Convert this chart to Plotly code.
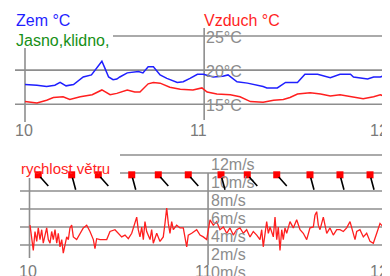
import math
import plotly.graph_objects as go

# ---------------- data ----------------
# hours since day "10" 00:00
zem_h = [0, 1.6, 2.9, 4.0, 4.7, 5.5, 6.5, 7.8, 8.9, 9.6, 10.3, 10.7, 11.2, 11.8, 12.3, 12.7,
         13.7, 15.2, 15.8, 16.5, 17.2, 18.1, 19.0, 20.4, 21.2, 22.1, 23.1, 23.9, 25.2, 26.5,
         27.2, 28.4, 29.8, 31.9, 32.4, 33.8, 34.9, 36.5, 37.5, 39.2, 40.5, 40.9, 42.2, 43.6,
         44.0, 45.3, 45.9, 46.7, 47.6, 48.3]
zem_t = [17.9, 17.8, 17.6, 17.8, 18.2, 17.7, 17.9, 19.0, 19.3, 20.3, 21.3, 20.3, 19.0, 18.6, 18.7, 19.0,
         19.6, 19.8, 19.6, 20.5, 20.5, 19.3, 18.8, 18.2, 18.3, 18.8, 19.4, 19.4, 19.0, 19.1,
         19.3, 18.3, 18.1, 17.6, 17.4, 17.4, 18.2, 18.2, 19.4, 19.4, 19.1, 18.9, 19.4, 19.4,
         19.0, 18.8, 18.7, 19.0, 19.0, 19.3]

air_h = [0, 1.6, 2.9, 3.8, 5.1, 6.0, 7.4, 9.0, 10.3, 11.4, 12.3, 13.7, 14.7, 15.4, 16.5, 17.2,
         18.1, 19.4, 20.8, 22.5, 23.7, 24.4, 25.7, 27.5, 28.8, 30.2, 31.9, 33.3, 34.6, 35.5,
         36.5, 38.2, 39.6, 40.9, 42.2, 43.6, 45.3, 46.7, 47.6, 48.3]
air_t = [15.4, 15.2, 15.6, 16.0, 16.1, 15.7, 16.1, 16.4, 17.1, 16.4, 16.6, 17.1, 16.8, 16.8, 18.0, 18.2,
         18.1, 17.5, 17.2, 17.1, 17.4, 16.8, 16.5, 16.4, 16.1, 15.4, 15.3, 15.6, 15.7, 16.0,
         16.5, 16.7, 16.5, 16.2, 16.4, 16.1, 15.8, 16.1, 16.4, 16.1]

wind_h = [0.07, 0.30, 0.51, 0.74, 0.97, 1.18, 1.41, 1.64, 1.85, 2.31, 2.53, 2.76, 2.98, 3.20, 3.43,
          3.66, 3.87, 4.10, 4.33, 4.54, 4.77, 5.00, 5.22, 5.44, 5.67, 5.89, 6.34, 6.79, 7.23, 7.69,
          8.13, 8.58, 8.80, 9.03, 9.48, 10.38, 10.82, 11.49, 11.94, 12.39, 12.84, 13.28, 13.74,
          14.18, 14.41, 14.62, 14.85, 15.08, 15.30, 15.52, 15.75, 16.20, 16.42, 16.64, 17.10,
          17.54, 17.98, 18.21, 18.44, 18.66, 18.88, 19.11, 19.33, 19.78, 20.23, 20.67, 20.90,
          21.13, 21.34, 21.80, 22.47, 22.92, 23.36, 23.82, 24.26, 24.70, 25.16, 25.60, 26.05,
          26.51, 26.95, 27.39, 27.85, 28.29, 28.74, 29.19, 29.64, 30.08, 30.54, 30.98, 31.21,
          31.42, 31.88, 32.10, 32.33, 32.77, 33.00, 33.23, 33.44, 33.67, 33.90, 34.11, 34.34,
          34.57, 35.01, 35.46, 35.91, 36.36, 36.80, 37.26, 37.70, 38.15, 38.37, 38.60, 38.82,
          39.05, 39.49, 39.72, 39.95, 40.39, 40.83, 41.29, 41.73, 42.18, 42.63, 43.08, 43.52,
          43.75, 43.98, 44.42, 44.87, 45.32, 45.77, 46.21, 46.67, 47.11, 47.55, 48.01, 48.45]
wind_v = [4.2, 2.6, 1.4, 3.5, 2.4, 3.9, 2.6, 3.7, 2.2, 3.9, 2.6, 2.2, 3.5, 2.6, 3.7,
          2.2, 3.3, 1.8, 2.6, 1.1, 2.2, 2.9, 2.6, 3.9, 4.2, 2.9, 2.6, 3.3, 3.9, 4.2,
          3.5, 2.6, 1.6, 2.7, 2.6, 2.6, 3.5, 3.7, 3.3, 2.9, 3.1, 2.7, 3.3,
          4.4, 5.1, 3.7, 2.9, 4.0, 2.6, 4.6, 3.5, 2.6, 3.7, 2.2, 3.3,
          2.4, 2.9, 4.4, 6.1, 4.4, 3.3, 4.6, 3.7, 4.2, 3.9, 3.9, 2.9,
          1.8, 3.1, 3.3, 3.7, 3.1, 2.9, 2.6, 4.8, 4.2, 4.6, 3.7, 4.0,
          3.3, 3.9, 3.1, 3.7, 3.9, 3.3, 3.7, 2.9, 3.5, 3.1, 2.6, 3.7,
          1.8, 4.6, 3.3, 4.0, 2.9, 5.1, 2.6, 4.0, 1.4, 3.7, 2.6, 3.9,
          3.3, 4.6, 3.9, 4.8, 3.7, 3.3, 2.6, 3.9, 4.0, 5.3, 5.7, 4.2,
          3.7, 5.1, 4.2, 3.3, 3.9, 3.1, 3.7, 3.7, 3.5, 3.9, 4.6, 3.3,
          2.6, 3.5, 3.7, 2.9, 3.3, 2.4, 2.2, 3.3, 4.4, 4.0, 4.4, 3.9]

# wind direction samples (hours, direction the wind comes from, degrees)
dir_h = [1.18, 5.67, 9.25, 13.74, 17.31, 21.34, 25.74, 29.27, 33.23, 37.70, 41.73, 45.77]
dir_deg = [318, 345, 318, 345, 318, 318, 345, 318, 318, 345, 345, 345]

day_ticks = [0, 24, 48]
day_labels = ["10", "11", "12"]
temp_ticks = [15, 20, 25]
temp_labels = ["15°C", "20°C", "25°C"]
wind_ticks = [2, 4, 6, 8, 10, 12]
wind_labels = ["2m/s", "4m/s", "6m/s", "8m/s", "10m/s", "12m/s"]

# ---------------- styling ----------------
OFF = 8                       # page body margin of the browser
W, H = 390 - OFF, 276 - OFF
BLUE = "#1f1fff"
RED = "#ff1f1f"
GREEN = "#169016"
GRID = "#8e8e8e"
LABEL = "#8c8c8c"
TICK = "#7a7a7a"
FONT = "Liberation Sans"


def px2paper_y(py):
    return 1 - (py - OFF) / H


def px2paper_x(px):
    return (px - OFF) / W


fig = go.Figure()

fig.add_trace(go.Scatter(x=zem_h, y=zem_t, mode="lines", line=dict(color=BLUE, width=1.5),
                         xaxis="x", yaxis="y", hoverinfo="skip"))
fig.add_trace(go.Scatter(x=air_h, y=air_t, mode="lines", line=dict(color=RED, width=1.5),
                         xaxis="x", yaxis="y", hoverinfo="skip"))
fig.add_trace(go.Scatter(x=wind_h, y=wind_v, mode="lines", line=dict(color=RED, width=1.3),
                         xaxis="x2", yaxis="y2", hoverinfo="skip"))

barb_row = 9.8
fig.add_trace(go.Scatter(x=dir_h, y=[barb_row] * len(dir_h), mode="markers",
                         marker=dict(symbol="square", size=7, color="#ff0000", line=dict(width=0)),
                         xaxis="x2", yaxis="y2", hoverinfo="skip"))

shapes = []
annotations = []

# top panel horizontal gridlines
for v in temp_ticks:
    x0 = 113 if v == 25 else 15
    shapes.append(dict(type="line", xref="paper", yref="y", x0=px2paper_x(x0), x1=1,
                       y0=v, y1=v, line=dict(color=GRID, width=1.6), layer="below"))
# bottom panel horizontal gridlines
for v in wind_ticks:
    x0 = 120 if v >= 10 else 20
    shapes.append(dict(type="line", xref="paper", yref="y2", x0=px2paper_x(x0), x1=1,
                       y0=v, y1=v, line=dict(color=GRID, width=1.6), layer="below"))

# vertical day lines
top_vspan = [(48, 122), (28, 120), (25, 120)]
bot_vspan = [(178, 258), (173, 265), (140, 276)]
for t, (a, b) in zip(day_ticks, top_vspan):
    shapes.append(dict(type="line", xref="x", yref="paper", x0=t, x1=t,
                       y0=px2paper_y(b), y1=px2paper_y(a), line=dict(color=GRID, width=1.6), layer="below"))
for t, (a, b) in zip(day_ticks, bot_vspan):
    shapes.append(dict(type="line", xref="x2", yref="paper", x0=t, x1=t,
                       y0=px2paper_y(b), y1=px2paper_y(a), line=dict(color=GRID, width=1.6), layer="below"))

# day labels
top_shift = [-1, -6, None]
bot_shift = [-2, -5, None]
for i, (t, lab) in enumerate(zip(day_ticks, day_labels)):
    for ax_ref, ypx, sh in (("x", 130, top_shift[i]), ("x2", 271, bot_shift[i])):
        if sh is None:
            annotations.append(dict(x=1, xref="paper", y=px2paper_y(ypx), yref="paper", text=lab,
                                    showarrow=False, xanchor="right", yanchor="middle",
                                    font=dict(family=FONT, size=16, color=TICK)))
        else:
            annotations.append(dict(x=t, xref=ax_ref, y=px2paper_y(ypx), yref="paper", text=lab,
                                    showarrow=False, xanchor="center", yanchor="middle", xshift=sh,
                                    font=dict(family=FONT, size=16, color=TICK)))

# temp labels
for v, lab in zip(temp_ticks, temp_labels):
    annotations.append(dict(x=px2paper_x(204), xref="paper", y=v, yref="y", text=lab,
                            showarrow=False, xanchor="left", yanchor="middle", yshift=-1,
                            font=dict(family=FONT, size=16, color=LABEL)))
# wind labels (drawn under their line)
for v, lab in zip(wind_ticks + [0], wind_labels + ["0m/s"]):
    annotations.append(dict(x=px2paper_x(209), xref="paper", y=v, yref="y2", text=lab,
                            showarrow=False, xanchor="left", yanchor="middle", yshift=-9,
                            font=dict(family=FONT, size=16, color=LABEL)))

# wind direction tails
L = 17
for t, d in zip(dir_h, dir_deg):
    tail = math.radians(d + 180)
    annotations.append(dict(x=t, xref="x2", y=barb_row, yref="y2", text="",
                            showarrow=True, arrowhead=0, arrowwidth=1.6, arrowcolor="#000000",
                            ax=L * math.sin(tail), ay=-L * math.cos(tail), standoff=3))

# titles
annotations += [
    dict(x=px2paper_x(14), y=px2paper_y(21), xref="paper", yref="paper", text="Zem °C",
         showarrow=False, xanchor="left", yanchor="middle", font=dict(family=FONT, size=16, color=BLUE)),
    dict(x=px2paper_x(14), y=px2paper_y(41), xref="paper", yref="paper", text="Jasno,klidno,",
         showarrow=False, xanchor="left", yanchor="middle", font=dict(family=FONT, size=16, color=GREEN)),
    dict(x=px2paper_x(202), y=px2paper_y(20), xref="paper", yref="paper", text="Vzduch °C",
         showarrow=False, xanchor="left", yanchor="middle", font=dict(family=FONT, size=16, color=RED)),
    dict(x=px2paper_x(19), y=px2paper_y(168), xref="paper", yref="paper", text="rychlost větru",
         showarrow=False, xanchor="left", yanchor="middle", font=dict(family=FONT, size=15, color=RED)),
]

hidden = dict(visible=False, showgrid=False, zeroline=False, fixedrange=True)
fig.update_layout(
    width=W, height=H,
    margin=dict(l=0, r=0, t=0, b=0),
    paper_bgcolor="white", plot_bgcolor="white",
    showlegend=False,
    xaxis=dict(range=[-(25 - OFF) / 7.465, 365 / 7.465], domain=[0, 1], **hidden),
    xaxis2=dict(range=[-(29.5 - OFF) / 7.44, 360.5 / 7.44], overlaying="x", anchor="y2", **hidden),
    yaxis=dict(range=[-10.14, 15 + (104.3 - OFF) / 6.83], domain=[0, 1], **hidden),
    yaxis2=dict(range=[-1.444, (263 - OFF) / 9], overlaying="y", anchor="x2", **hidden),
    shapes=shapes,
    annotations=annotations,
)

fig.write_html("out.html")
